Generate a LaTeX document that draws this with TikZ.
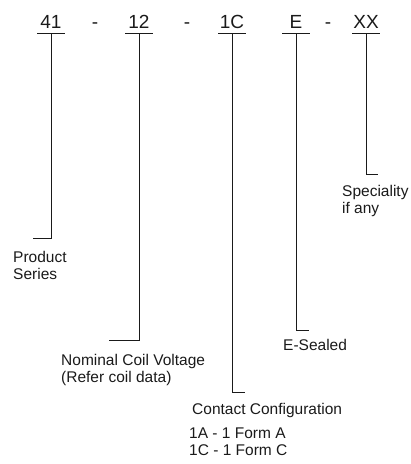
\documentclass[tikz,border=0pt]{standalone}
\usepackage{fontspec}
\setmainfont{Liberation Sans}
\usetikzlibrary{positioning}
\definecolor{ink}{HTML}{1A1A1A}
\tikzset{
  code/.style={
    font=\fontsize{19}{22}\selectfont,
    text=ink,
    minimum width=27pt,
    inner xsep=0pt,
    inner ysep=5pt,
    text height=13.5pt,
    text depth=0pt,
    anchor=base
  },
  sep/.style={
    font=\fontsize{19}{22}\selectfont,
    text=ink,
    inner sep=0pt,
    anchor=base
  },
  note/.style={
    font=\fontsize{15.5}{17}\selectfont,
    text=ink,
    align=left,
    inner sep=0pt,
    anchor=base west
  },
  lead/.style={
    draw=ink,
    line width=0.9pt
  }
}

\begin{document}
\begin{tikzpicture}[x=1pt,y=-1pt]
  \useasboundingbox (0,0) rectangle (411,464);

  % part number
  \node[code] (series) at (51,28) {41};
  \node[sep] (d1) at (95,28) {-};
  \node[code] (coil) at (139,28) {12};
  \node[sep] (d2) at (187,28) {-};
  \node[code] (contact) at (232,28) {1C};
  \node[code] (sealed) at (296,28) {E};
  \node[sep] (d3) at (328,28) {-};
  \node[code] (special) at (366,28) {XX};

  % underlines
  \foreach \n in {series,coil,contact,sealed,special}
    \draw[lead] (\n.south west) -- (\n.south east);

  % hook ends
  \coordinate (hseries) at (33,238);
  \coordinate (hcoil) at (109,340);
  \coordinate (hcontact) at (245,392);
  \coordinate (hsealed) at (309,330);
  \coordinate (hspecial) at (378,174);

  \foreach \n in {series,coil,contact,sealed,special}
    \draw[lead] (\n.south) |- (h\n);

  % descriptions (base = last line)
  \node[note] (lseries) at (13,279) {Product\\Series};
  \node[note] (lcoil) at (61,382) {Nominal Coil Voltage\\(Refer coil data)};
  \node[note] (lcontact) at (192,414) {Contact Configuration};
  \node[note] (lforms) at (189,455) {1A - 1 Form A\\1C - 1 Form C};
  \node[note] (lsealed) at (283,350) {E-Sealed};
  \node[note] (lspecial) at (342,213) {Speciality\\if any};
\end{tikzpicture}
\end{document}
